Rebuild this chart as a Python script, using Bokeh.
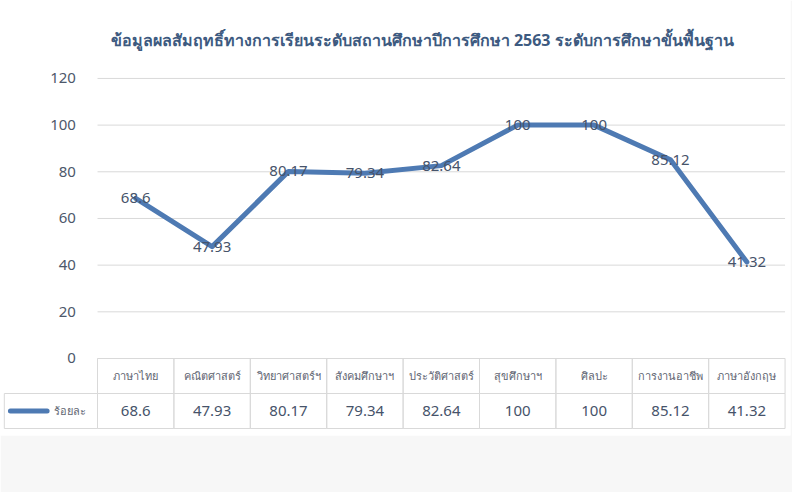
from bokeh.plotting import figure
from bokeh.models import FixedTicker, Label
from bokeh.core.properties import value
from bokeh.embed import file_html
from bokeh.resources import INLINE

title_text = "ข้อมูลผลสัมฤทธิ์ทางการเรียนระดับสถานศึกษาปีการศึกษา 2563 ระดับการศึกษาขั้นพื้นฐาน"
subjects = ["ภาษาไทย", "คณิตศาสตร์", "วิทยาศาสตร์ฯ", "สังคมศึกษาฯ", "ประวัติศาสตร์",
            "สุขศึกษาฯ", "ศิลปะ", "การงานอาชีพ", "ภาษาอังกฤษ"]
percent = [68.6, 47.93, 80.17, 79.34, 82.64, 100, 100, 85.12, 41.32]
series_name = "ร้อยละ"
y_ticks = [0, 20, 40, 60, 80, 100, 120]
value_labels = ["68.6", "47.93", "80.17", "79.34", "82.64", "100", "100", "85.12", "41.32"]

idx = list(range(len(subjects)))
LINE = "#4e7ab3"
TXT = "#46536a"
AX = "#4d586b"
CAT = "#5f6673"
FONT = "Noto Sans"

p = figure(width=792, height=492, output_backend="svg", toolbar_location=None,
           x_range=(-1.77, 8.571), y_range=(-33, 153.4),
           x_axis_location=None,
           min_border_left=0, min_border_right=2, min_border_top=0, min_border_bottom=57,
           border_fill_color="#f7f7f7", background_fill_color="white",
           outline_line_color=None)
p.xgrid.visible = False
p.ygrid.visible = False

ax = p.yaxis[0]
ax.fixed_location = -0.6
ax.ticker = FixedTicker(ticks=y_ticks)
ax.axis_line_color = None
ax.major_tick_line_color = None
ax.minor_tick_line_color = None
ax.major_label_standoff = 8
ax.major_label_text_font_size = "15px"
ax.major_label_text_color = AX
ax.major_label_text_font = FONT

# gridlines
p.segment(x0=[-0.5] * len(y_ticks), x1=[8.5] * len(y_ticks), y0=y_ticks, y1=y_ticks,
          line_color="#d9d9d9", line_width=1)

# data table
n = len(subjects)
p.rect(x=idx, y=[-7.5] * n, width=1, height=15, fill_color=None, line_color="#d9d9d9")
p.rect(x=idx, y=[-22.5] * n, width=1, height=15, fill_color=None, line_color="#d9d9d9")
p.rect(x=[-1.11], y=[-22.5], width=1.22, height=15, fill_color=None, line_color="#d9d9d9")
p.text(x=idx, y=[-7.5] * n, text=subjects, text_align="center", text_baseline="middle",
       text_font=value(FONT), text_font_size="11px", text_color=CAT)
p.text(x=idx, y=[-22.5] * n, text=value_labels, text_align="center", text_baseline="middle",
       text_font=value(FONT), text_font_size="15px", text_color=TXT)
p.line(x=[-1.64, -1.16], y=[-22.5, -22.5], line_color=LINE, line_width=5, line_cap="round")
p.text(x=[-1.07], y=[-22.5], text=[series_name], text_align="left", text_baseline="middle",
       text_font=value(FONT), text_font_size="11px", text_color=CAT)

# series
p.line(x=idx, y=percent, line_color=LINE, line_width=5, line_join="round", line_cap="round")
p.text(x=idx, y=percent, text=value_labels, text_align="center", text_baseline="middle",
       text_font=value(FONT), text_font_size="15px", text_color=TXT)

p.add_layout(Label(x=3.75, y=136.3, text=title_text, text_align="center", text_baseline="middle",
                   text_font=FONT, text_font_size="16px", text_font_style="bold",
                   text_color="#3d5a80"))

open("out.html", "w").write(file_html(p, INLINE))
